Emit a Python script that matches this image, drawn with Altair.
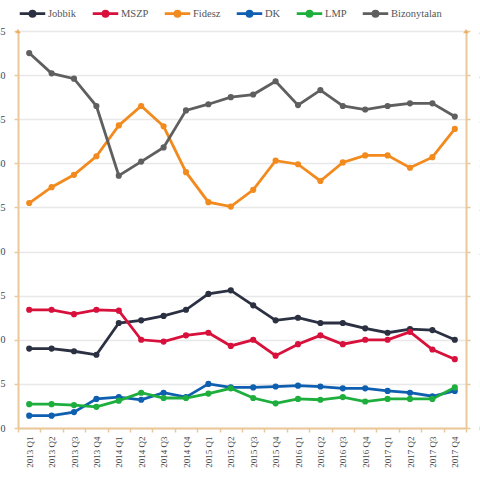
import altair as alt
import pandas as pd

quarters = ["2013 Q1", "2013 Q2", "2013 Q3", "2013 Q4",
            "2014 Q1", "2014 Q2", "2014 Q3", "2014 Q4",
            "2015 Q1", "2015 Q2", "2015 Q3", "2015 Q4",
            "2016 Q1", "2016 Q2", "2016 Q3", "2016 Q4",
            "2017 Q1", "2017 Q2", "2017 Q3", "2017 Q4"]

series_names = ["Jobbik", "MSZP", "Fidesz", "DK", "LMP", "Bizonytalan"]
series_colors = ["#2b3142", "#d8103c", "#f28a1e", "#0f5fb0", "#1eae3e", "#5f5f5f"]

jobbik = [9.0, 9.0, 8.7, 8.3, 11.9, 12.2, 12.7, 13.4, 15.2, 15.6,
          13.9, 12.2, 12.5, 11.9, 11.9, 11.3, 10.8, 11.2, 11.1, 10.0]
mszp = [13.4, 13.4, 12.9, 13.4, 13.3, 10.0, 9.8, 10.5, 10.8, 9.3,
        10.0, 8.2, 9.5, 10.5, 9.5, 10.0, 10.0, 10.9, 8.9, 7.8]
fidesz = [25.5, 27.3, 28.7, 30.8, 34.3, 36.5, 34.2, 29.0, 25.6, 25.1,
          27.0, 30.3, 29.9, 28.0, 30.1, 30.9, 30.9, 29.5, 30.7, 33.9]
dk = [1.4, 1.4, 1.8, 3.3, 3.5, 3.2, 4.0, 3.5, 5.0, 4.6,
      4.6, 4.7, 4.8, 4.7, 4.5, 4.5, 4.2, 4.0, 3.6, 4.2]
lmp = [2.7, 2.7, 2.6, 2.4, 3.1, 4.0, 3.4, 3.4, 3.9, 4.5,
       3.4, 2.8, 3.3, 3.2, 3.5, 3.0, 3.3, 3.3, 3.3, 4.6]
bizonytalan = [42.5, 40.2, 39.6, 36.5, 28.6, 30.2, 31.8, 36.0, 36.7, 37.5,
               37.8, 39.3, 36.6, 38.3, 36.5, 36.1, 36.5, 36.8, 36.8, 35.3]

y_ticks = [0, 5, 10, 15, 20, 25, 30, 35, 40, 45]

values = [jobbik, mszp, fidesz, dk, lmp, bizonytalan]
rows = []
for name, vals in zip(series_names, values):
    for q, v in zip(quarters, vals):
        rows.append({"quarter": q, "party": name, "value": v})
df = pd.DataFrame(rows)

AXIS_COL = "#ebc898"
FONT = "Liberation Serif"
W, H = 448, 397

y_scale = alt.Scale(domain=[0, 45], nice=False, zero=True)
x_scale = alt.Scale(type="band", domain=quarters, paddingInner=0, paddingOuter=0)

legend_symbol = "M-1,0L1,0M-0.2,0A0.2,0.2,0,1,1,0.2,0A0.2,0.2,0,1,1,-0.2,0Z"

lines = alt.Chart(df).mark_line(
    strokeWidth=2.8,
    point=alt.OverlayMarkDef(filled=True, size=38),
).encode(
    x=alt.X("quarter:N", scale=x_scale, sort=quarters, bandPosition=0.5,
            axis=alt.Axis(title=None, labelAngle=-90, tickBand="extent",
                          domainColor=AXIS_COL, domainWidth=2,
                          tickColor=AXIS_COL, tickWidth=1.5, tickSize=4,
                          labelFontSize=9, labelColor="#444444",
                          labelPadding=4)),
    y=alt.Y("value:Q", scale=y_scale,
            axis=alt.Axis(title=None, values=y_ticks, grid=True,
                          gridColor="#e8e8e8", gridWidth=1.5,
                          domainColor=AXIS_COL, domainWidth=2,
                          tickColor=AXIS_COL, tickWidth=1.5, tickSize=4,
                          labelFontSize=10, labelColor="#444444",
                          labelPadding=9)),
    color=alt.Color("party:N", scale=alt.Scale(domain=series_names, range=series_colors),
                    sort=series_names,
                    legend=alt.Legend(title=None, orient="top", direction="horizontal",
                                      symbolType=legend_symbol, symbolSize=650,
                                      symbolStrokeWidth=2.8,
                                      labelFontSize=10.5, labelColor="#555555",
                                      columnPadding=10, labelOffset=1, offset=9,
                                      padding=0)),
    order=alt.Order("party:N"),
)

top_marker = pd.DataFrame({"value": [45]})

right_arrow = alt.Chart(top_marker).mark_point(
    shape="triangle-up", filled=True, size=30, color="#e8a040"
).encode(
    x=alt.value(W),
    y=alt.Y("value:Q", scale=y_scale,
            axis=alt.Axis(title=None, orient="right", values=y_ticks, grid=False,
                          domainColor=AXIS_COL, domainWidth=2,
                          tickColor=AXIS_COL, tickWidth=1.5, tickSize=4,
                          labelFontSize=10, labelColor="#444444",
                          labelPadding=9)),
)

left_arrow = alt.Chart(top_marker).mark_point(
    shape="triangle-up", filled=True, size=30, color="#e8a040"
).encode(
    x=alt.value(0),
    y=alt.Y("value:Q", scale=y_scale, axis=None),
)

chart = alt.layer(lines, right_arrow, left_arrow).resolve_scale(
    y="shared"
).resolve_axis(
    y="independent"
).properties(
    width=W, height=H,
    autosize=alt.AutoSizeParams(type="none"),
    padding={"left": 18, "top": 31, "right": 14, "bottom": 52},
    background="white",
).configure(
    font=FONT
).configure_axis(
    labelFont=FONT
).configure_legend(
    labelFont=FONT
).configure_view(stroke=None)

chart.save("out.html", embed_options={"renderer": "svg", "actions": False})
